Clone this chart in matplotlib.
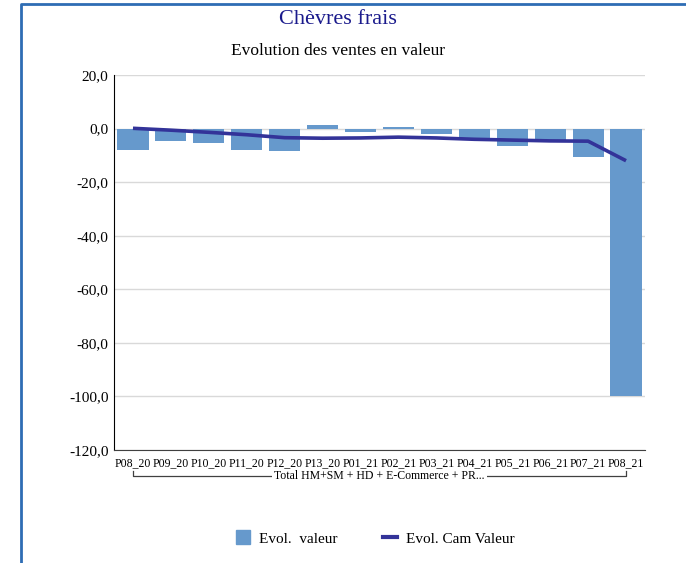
import matplotlib
matplotlib.use("Agg")
import matplotlib.pyplot as plt
from matplotlib.lines import Line2D
from matplotlib.patches import Patch
from matplotlib.ticker import FuncFormatter

periods = ["P08_20", "P09_20", "P10_20", "P11_20", "P12_20", "P13_20", "P01_21",
           "P02_21", "P03_21", "P04_21", "P05_21", "P06_21", "P07_21", "P08_21"]
evol_valeur = [-8.0, -4.6, -5.4, -8.0, -8.4, 1.2, -1.2, 0.5, -2.0, -4.4, -6.6, -4.6, -10.6, -100.0]
evol_cam = [0.1, -0.6, -1.4, -2.3, -3.4, -3.6, -3.5, -3.2, -3.5, -4.0, -4.3, -4.6, -4.7, -12.0]
y_ticks = [20, 0, -20, -40, -60, -80, -100, -120]
group_label = "Total HM+SM + HD + E-Commerce + PR..."

bar_col = "#6699cc"
line_col = "#333399"
serif = "Liberation Serif"
plt.rcParams["font.family"] = serif

fig = plt.figure(figsize=(6.86, 5.63), dpi=100)
ax = fig.add_axes([114 / 686, 1 - 450 / 563, (645 - 114) / 686, (450 - 75) / 563])

x = list(range(len(periods)))
ax.bar(x, evol_valeur, width=0.82, color=bar_col, zorder=2)
ax.plot(x, evol_cam, color=line_col, lw=2.6, zorder=3, solid_capstyle="butt")

ax.set_xlim(-0.5, len(periods) - 0.5)
ax.set_ylim(-120, 20)
ax.set_yticks(y_ticks)
ax.yaxis.set_major_formatter(FuncFormatter(lambda v, p: f"{v:.1f}".replace(".", ",")))
ax.grid(axis="y", color="#d9d9d9", lw=1, zorder=0)
ax.set_axisbelow(True)
ax.set_xticks(x)
ax.set_xticklabels(periods, fontsize=8.5)
ax.tick_params(axis="y", length=0, pad=4, labelsize=11)
ax.tick_params(axis="x", length=0, pad=5)
for s in ["top", "right"]:
    ax.spines[s].set_visible(False)
ax.spines["left"].set_color("black")
ax.spines["bottom"].set_color("#404040")

# group bracket under the category labels (kept below the tick labels)
tr = ax.get_xaxis_transform()
y_top, y_bot = -0.055, -0.069
ax.plot([0, 0, 13, 13], [y_top, y_bot, y_bot, y_top], color="#404040", lw=0.9,
        transform=tr, clip_on=False, zorder=0.2)
ax.text(6.5, y_bot, group_label, transform=tr, ha="center", va="center", fontsize=8.5,
        zorder=0.3, bbox=dict(facecolor="white", edgecolor="none", pad=1.5))

fig.text(338 / 686, 1 - 20 / 563, "Chèvres frais", ha="center", va="center",
         fontsize=16, color="#1a1a8c")
fig.text(338 / 686, 1 - 51 / 563, "Evolution des ventes en valeur", ha="center",
         va="center", fontsize=12.5, color="black")

handles = [Patch(color=bar_col, label="Evol.  valeur"),
           Line2D([], [], color=line_col, lw=3, label="Evol. Cam Valeur")]
fig.legend(handles=handles, loc="center", bbox_to_anchor=(0.547, 1 - 538 / 563),
           ncol=2, frameon=False, fontsize=11, handlelength=0.9, handleheight=1.0,
           handletextpad=0.6, columnspacing=3.0)

# blue frame around the chart
fig.add_artist(Line2D([21 / 686, 21 / 686, 1.0], [0.0, 1 - 3.5 / 563, 1 - 3.5 / 563],
                      color="#2e6db4", lw=2, transform=fig.transFigure))

fig.savefig("out.png", dpi=100)
